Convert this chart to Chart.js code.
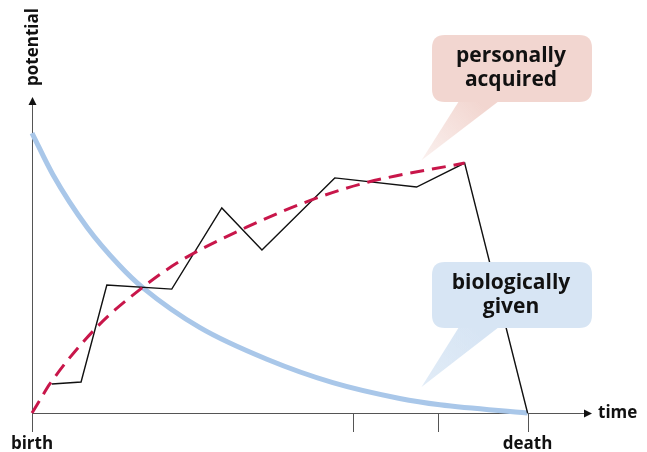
<!DOCTYPE html>
<html>
<head>
<meta charset="utf-8">
<script src="https://cdn.jsdelivr.net/npm/chart.js@4"></script>
<style>
  html, body { margin: 0; padding: 0; background: #fff; }
</style>
</head>
<body>
<canvas id="chart" width="647" height="452"></canvas>
<script>
// time axis: birth = 0, death = 100 ; potential axis: 0 .. 100 (arrow tip)
var xAxisEnd = 113;
var xTicks = [0, 64.7, 81.9, 100];
var xTickLabels = { 0: 'birth', 100: 'death' };

var biologicalX = [0, 4.2, 11.1, 17.7, 22.4, 33.9, 47.4, 60.7, 74.2, 82.3, 100];
var biologicalY = [88.6, 75.5, 58.8, 46.6, 39.6, 27.0, 17.0, 9.6, 4.6, 2.6, 0];

var acquiredX = [0, 1.6, 3.6, 13.1, 22.2, 29.8, 43.3, 56.7, 67.7, 87.3];
var acquiredY = [0, 4.1, 9.2, 27.2, 39.6, 48.0, 58.8, 67.6, 73.0, 79.1];

var actualX = [4.0, 9.9, 15.1, 28.2, 38.3, 46.4, 61.1, 77.6, 87.3, 100];
var actualY = [9.2, 9.8, 40.5, 39.2, 64.9, 51.6, 74.4, 71.5, 79.1, 0];

function toPoints(xs, ys) {
    return xs.map(function(x, i) { return { x: x, y: ys[i] }; });
}

var FONT = '"Open Sans", "DejaVu Sans", sans-serif';

// ===================================================================
// axes with arrows, tick marks and labels
var axesPlugin = {
    id: 'axes',
    beforeDatasetsDraw: function(chart) {
        var ctx = chart.ctx;
        var xs = chart.scales.x, ys = chart.scales.y;
        var x0 = xs.getPixelForValue(0), y0 = ys.getPixelForValue(0);
        var xEnd = xs.getPixelForValue(xAxisEnd), yEnd = ys.getPixelForValue(100);

        ctx.save();
        ctx.strokeStyle = '#555';
        ctx.fillStyle = '#111';
        ctx.lineWidth = 1;

        ctx.beginPath();
        ctx.moveTo(x0, y0 + 0.5);
        ctx.lineTo(xEnd - 6, y0 + 0.5);
        ctx.moveTo(x0 + 0.5, y0);
        ctx.lineTo(x0 + 0.5, yEnd + 6);
        ctx.stroke();

        // arrow heads
        ctx.beginPath();
        ctx.moveTo(xEnd, y0 + 0.5);
        ctx.lineTo(xEnd - 8, y0 - 3.5);
        ctx.lineTo(xEnd - 8, y0 + 4.5);
        ctx.closePath();
        ctx.fill();
        ctx.beginPath();
        ctx.moveTo(x0 + 0.5, yEnd);
        ctx.lineTo(x0 - 3.5, yEnd + 8);
        ctx.lineTo(x0 + 4.5, yEnd + 8);
        ctx.closePath();
        ctx.fill();

        // ticks below the time axis
        ctx.beginPath();
        xTicks.forEach(function(t) {
            var px = Math.round(xs.getPixelForValue(t)) + 0.5;
            ctx.moveTo(px, y0);
            ctx.lineTo(px, y0 + 19);
        });
        ctx.stroke();

        ctx.font = 'bold 17px ' + FONT;
        ctx.textAlign = 'center';
        ctx.textBaseline = 'middle';
        xTicks.forEach(function(t) {
            if (xTickLabels[t]) {
                ctx.fillText(xTickLabels[t], xs.getPixelForValue(t), y0 + 31);
            }
        });

        ctx.textAlign = 'left';
        ctx.fillText('time', xEnd + 6, y0);

        ctx.translate(x0 + 1, yEnd - 50);
        ctx.rotate(-Math.PI / 2);
        ctx.textAlign = 'center';
        ctx.fillText('potential', 0, 0);
        ctx.restore();
    }
};

// ===================================================================
// speech bubbles
var bubbles = [
    { lines: ['personally', 'acquired'], fill: '#f2d6d0', tail: 'rgba(242,214,208,0.35)', tipX: 78.6, tipY: 80, top: 35, bottom: 102 },
    { lines: ['biologically', 'given'], fill: '#d7e5f4', tail: 'rgba(215,229,244,0.75)', tipX: 78.6, tipY: 8.2, top: 262, bottom: 328 }
];

function roundRect(ctx, x, y, w, h, r) {
    ctx.moveTo(x + r, y);
    ctx.lineTo(x + w - r, y);
    ctx.quadraticCurveTo(x + w, y, x + w, y + r);
    ctx.lineTo(x + w, y + h - r);
    ctx.quadraticCurveTo(x + w, y + h, x + w - r, y + h);
    ctx.lineTo(x + r, y + h);
    ctx.quadraticCurveTo(x, y + h, x, y + h - r);
    ctx.lineTo(x, y + r);
    ctx.quadraticCurveTo(x, y, x + r, y);
}

var bubblePlugin = {
    id: 'bubbles',
    afterDatasetsDraw: function(chart) {
        var ctx = chart.ctx;
        var xs = chart.scales.x, ys = chart.scales.y;
        ctx.save();
        bubbles.forEach(function(b) {
            var tx = xs.getPixelForValue(b.tipX), ty = ys.getPixelForValue(b.tipY);
            var left = 432, right = 592;
            ctx.fillStyle = b.fill;
            ctx.beginPath();
            roundRect(ctx, left, b.top, right - left, b.bottom - b.top, 13);
            ctx.fill();

            var grad = ctx.createLinearGradient(479, b.bottom, tx, ty);
            grad.addColorStop(0, b.fill);
            grad.addColorStop(1, b.tail);
            ctx.fillStyle = grad;
            ctx.beginPath();
            ctx.moveTo(459, b.bottom - 1);
            ctx.lineTo(499, b.bottom - 1);
            ctx.lineTo(tx, ty);
            ctx.closePath();
            ctx.fill();

            ctx.fillStyle = '#111';
            ctx.font = 'bold 21px ' + FONT;
            ctx.textAlign = 'center';
            ctx.textBaseline = 'middle';
            var cx = (left + right) / 2 - 1;
            var mid = (b.top + b.bottom) / 2;
            ctx.fillText(b.lines[0], cx, mid - 12);
            ctx.fillText(b.lines[1], cx, mid + 12);
        });
        ctx.restore();
    }
};

var ctx = document.getElementById('chart').getContext('2d');
var chart = new Chart(ctx, {
    type: 'line',
    data: {
        datasets: [
            {
                label: 'biologically given',
                data: toPoints(biologicalX, biologicalY),
                borderColor: '#a9c7e9',
                borderWidth: 5,
                cubicInterpolationMode: 'monotone',
                pointRadius: 0,
                clip: false,
                order: 3
            },
            {
                label: 'actual',
                data: toPoints(actualX, actualY),
                borderColor: '#111',
                borderWidth: 1.4,
                tension: 0,
                pointRadius: 0,
                clip: false,
                order: 2
            },
            {
                label: 'personally acquired',
                data: toPoints(acquiredX, acquiredY),
                borderColor: '#c8164a',
                borderWidth: 3,
                borderDash: [14, 8],
                cubicInterpolationMode: 'monotone',
                pointRadius: 0,
                clip: false,
                order: 1
            }
        ]
    },
    options: {
        responsive: false,
        animation: false,
        layout: { padding: { left: 32, right: 55, top: 97, bottom: 39 } },
        scales: {
            x: { type: 'linear', min: 0, max: xAxisEnd, display: false },
            y: { type: 'linear', min: 0, max: 100, display: false }
        },
        plugins: {
            legend: { display: false },
            tooltip: { enabled: false }
        }
    },
    plugins: [axesPlugin, bubblePlugin]
});
</script>
</body>
</html>
